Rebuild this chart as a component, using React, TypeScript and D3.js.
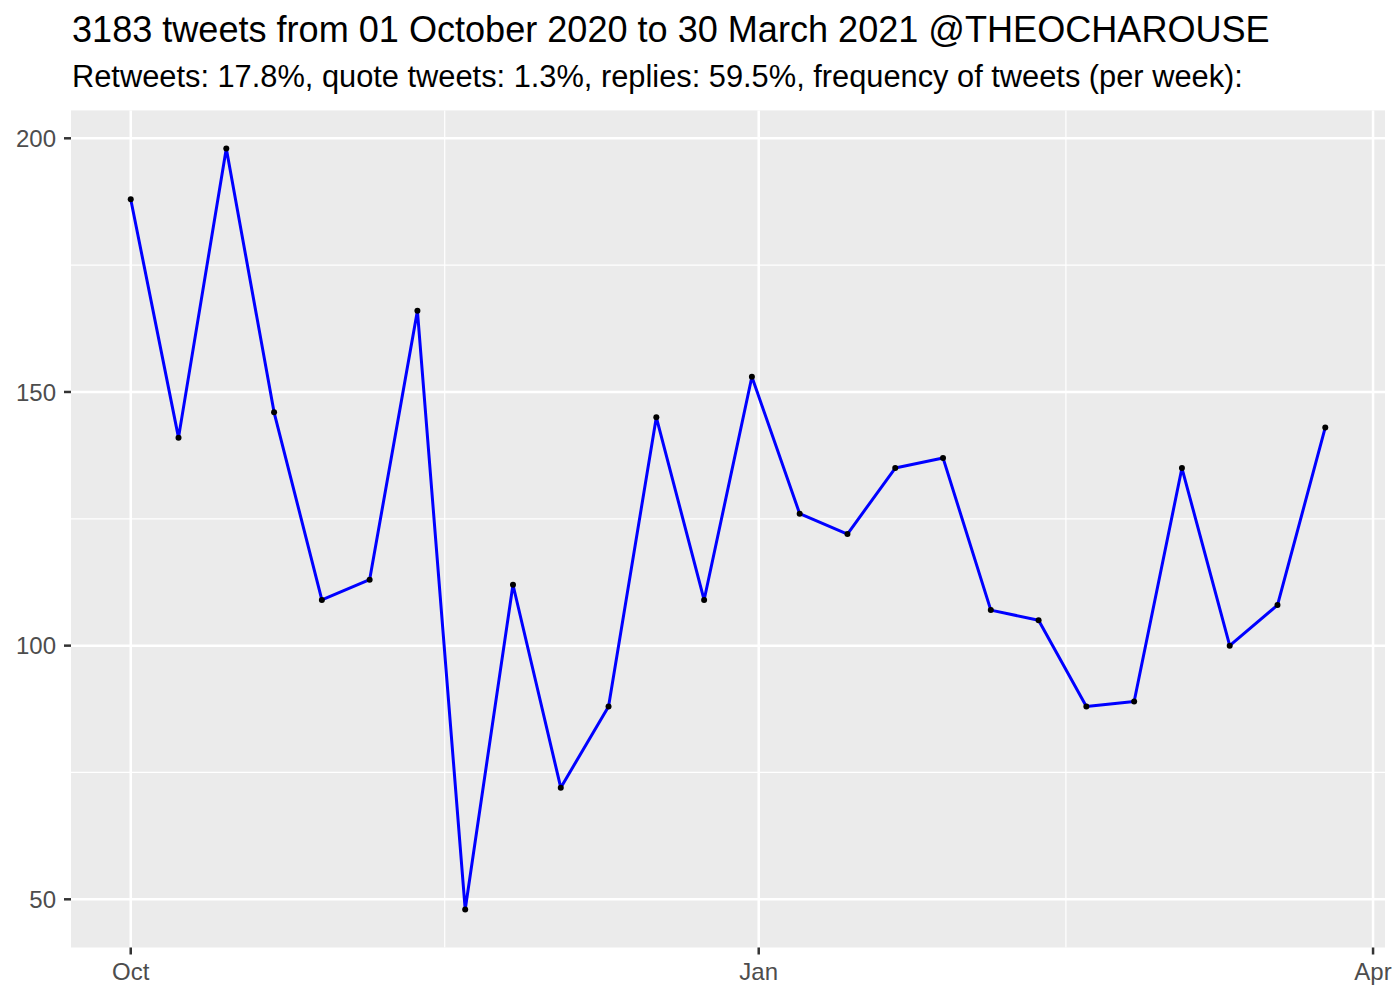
import React from "react";
import * as d3 from "d3";

const START = Date.UTC(2020, 9, 1);
const DAY = 86400000;
const weekIndex = d3.range(26);
const weeklyTweets = [188, 141, 198, 146, 109, 113, 166, 48, 112, 72, 88, 145, 109, 153, 126, 122, 135, 137, 107, 105, 88, 89, 135, 100, 108, 143];
const xMajorTicks = [new Date(Date.UTC(2020, 9, 1)), new Date(Date.UTC(2021, 0, 1)), new Date(Date.UTC(2021, 3, 1))];
const xTickLabels = ["Oct", "Jan", "Apr"];
const yMajorTicks = [50, 100, 150, 200];
const yMinorTicks = [75, 125, 175];
const titleText = "3183 tweets from 01 October 2020 to 30 March 2021 @THEOCHAROUSE";
const subtitleText = "Retweets: 17.8%, quote tweets: 1.3%, replies: 59.5%, frequency of tweets (per week):";

const W = 1400;
const H = 1000;
const PL = 71, PR = 1385, PT = 110.4, PB = 947.5;
const FONT = "'Liberation Sans', Arial, Helvetica, sans-serif";

export default function App() {
  const data = weekIndex.map((i) => ({ date: new Date(START + i * 7 * DAY), value: weeklyTweets[i] }));
  const dMin = data[0].date.getTime();
  const dMax = data[data.length - 1].date.getTime();
  const dPad = (dMax - dMin) * 0.05;
  const x = d3.scaleUtc().domain([new Date(dMin - dPad), new Date(dMax + dPad)]).range([PL, PR]);
  const vMin = d3.min(weeklyTweets) as number;
  const vMax = d3.max(weeklyTweets) as number;
  const vPad = (vMax - vMin) * 0.05;
  const y = d3.scaleLinear().domain([vMin - vPad, vMax + vPad]).range([PB, PT]);

  const xMinorTicks = d3.range(xMajorTicks.length - 1).map(
    (i) => new Date((xMajorTicks[i].getTime() + xMajorTicks[i + 1].getTime()) / 2)
  );

  const line = d3
    .line<{ date: Date; value: number }>()
    .x((d) => x(d.date))
    .y((d) => y(d.value));

  return (
    <svg width={W} height={H} style={{ position: "absolute", left: 0, top: 0, background: "#fff" }} fontFamily={FONT}>
      <rect x={0} y={0} width={W} height={H} fill="#fff" />
      <text x={72} y={42} fontSize={36.1} fill="#000">{titleText}</text>
      <text x={72} y={87} fontSize={30.8} fill="#000">{subtitleText}</text>
      <rect x={PL} y={PT} width={PR - PL} height={PB - PT} fill="#EBEBEB" />
      {yMinorTicks.map((t) => (
        <line key={"ym" + t} x1={PL} x2={PR} y1={y(t)} y2={y(t)} stroke="#fff" strokeWidth={1.2} />
      ))}
      {xMinorTicks.map((t, i) => (
        <line key={"xm" + i} x1={x(t)} x2={x(t)} y1={PT} y2={PB} stroke="#fff" strokeWidth={1.2} />
      ))}
      {yMajorTicks.map((t) => (
        <line key={"yM" + t} x1={PL} x2={PR} y1={y(t)} y2={y(t)} stroke="#fff" strokeWidth={2.5} />
      ))}
      {xMajorTicks.map((t, i) => (
        <line key={"xM" + i} x1={x(t)} x2={x(t)} y1={PT} y2={PB} stroke="#fff" strokeWidth={2.5} />
      ))}
      <path d={line(data) || ""} fill="none" stroke="#0000FF" strokeWidth={3} strokeLinejoin="round" />
      {data.map((d, i) => (
        <circle key={"p" + i} cx={x(d.date)} cy={y(d.value)} r={3} fill="#000" />
      ))}
      {yMajorTicks.map((t) => (
        <g key={"yt" + t}>
          <line x1={PL - 7} x2={PL} y1={y(t)} y2={y(t)} stroke="#333" strokeWidth={2.5} />
          <text x={PL - 15} y={y(t)} dy="0.36em" textAnchor="end" fontSize={24} fill="#4D4D4D">{t}</text>
        </g>
      ))}
      {xMajorTicks.map((t, i) => (
        <g key={"xt" + i}>
          <line x1={x(t)} x2={x(t)} y1={PB} y2={PB + 7} stroke="#333" strokeWidth={2.5} />
          <text x={x(t)} y={PB + 32} textAnchor="middle" fontSize={24} fill="#4D4D4D">{xTickLabels[i]}</text>
        </g>
      ))}
    </svg>
  );
}
